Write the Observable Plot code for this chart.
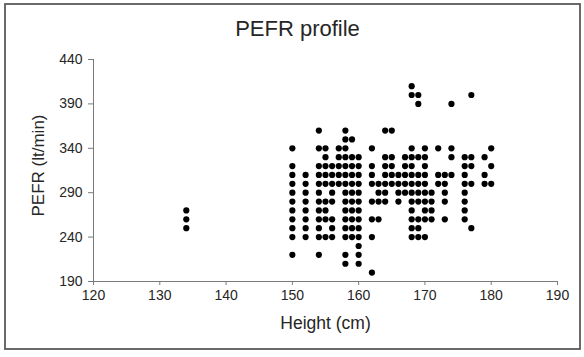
<!DOCTYPE html>
<html>
<head>
<meta charset="utf-8">
<script src="https://cdn.jsdelivr.net/npm/d3@7"></script>
<script src="https://cdn.jsdelivr.net/npm/@observablehq/plot@0.6"></script>
<style>
  html, body { margin: 0; padding: 0; background: #fff; }
  #chart { width: 584px; height: 357px; }
</style>
</head>
<body>
<div id="chart"></div>
<script>
// Height (cm) columns and the PEFR (lt/min) values recorded at each height
const heights = [134, 150, 152, 154, 155, 156, 157, 158, 159, 160, 162, 163, 164, 165, 166, 167, 168, 169, 170, 171, 172, 173, 174, 176, 177, 179, 180];
const pefrByHeight = [
  [250, 260, 270],                                                        // 134
  [220, 240, 250, 260, 270, 280, 290, 300, 310, 320, 340],                // 150
  [240, 250, 260, 270, 280, 290, 300, 310],                               // 152
  [220, 240, 250, 260, 270, 280, 290, 300, 310, 320, 340, 360],           // 154
  [240, 260, 270, 280, 300, 310, 320, 330, 340],                          // 155
  [240, 250, 260, 280, 290, 300, 310, 320],                               // 156
  [300, 310, 320, 330, 340],                                              // 157
  [210, 220, 240, 250, 260, 270, 280, 290, 300, 310, 320, 330, 340, 350, 360], // 158
  [240, 250, 260, 270, 280, 290, 300, 310, 320, 330, 350],                // 159
  [210, 220, 230, 240, 250, 260, 270, 280, 290, 300, 310, 320, 330],      // 160
  [200, 240, 260, 280, 300, 310, 320, 340],                               // 162
  [260, 280, 290, 300],                                                   // 163
  [280, 290, 300, 310, 320, 330, 360],                                    // 164
  [300, 310, 320, 330, 360],                                              // 165
  [280, 290, 300, 310],                                                   // 166
  [290, 300, 310, 320, 330],                                              // 167
  [240, 250, 260, 270, 280, 290, 300, 310, 320, 330, 340, 400, 410],      // 168
  [240, 250, 260, 280, 290, 300, 310, 330, 390, 400],                     // 169
  [240, 260, 270, 280, 290, 300, 310, 320, 330, 340],                     // 170
  [260, 270, 280, 290],                                                   // 171
  [300, 310, 340],                                                        // 172
  [260, 280, 290, 300, 310],                                              // 173
  [310, 330, 340, 390],                                                   // 174
  [260, 270, 280, 290, 300, 310, 320, 330],                               // 176
  [250, 300, 320, 330, 400],                                              // 177
  [300, 310, 330],                                                        // 179
  [300, 320, 340]                                                         // 180
];
const xTicks = [120, 130, 140, 150, 160, 170, 180, 190];
const yTicks = [190, 240, 290, 340, 390, 440];
const titleText = "PEFR profile";
const xLabel = "Height (cm)";
const yLabel = "PEFR (lt/min)";

const data = heights.flatMap((h, i) => pefrByHeight[i].map(p => ({height: h, pefr: p})));

const axisColor = "#7a7a7a";
const textColor = "#262626";

const chart = Plot.plot({
  width: 584,
  height: 357,
  marginLeft: 93,
  marginRight: 27,
  marginTop: 59,
  marginBottom: 76,
  style: {fontFamily: "'Liberation Sans', Arial, sans-serif", color: textColor, background: "#fff", overflow: "visible"},
  x: {domain: [120, 190]},
  y: {domain: [190, 440]},
  marks: [
    Plot.axisX({ticks: xTicks, tickSize: 4, tickPadding: 5, fontSize: 14, label: null, stroke: axisColor, fill: textColor}),
    Plot.axisY({ticks: yTicks, tickSize: 5, tickPadding: 6, fontSize: 14, label: null, stroke: axisColor, fill: textColor}),
    Plot.ruleX([120], {stroke: axisColor}),
    Plot.ruleY([190], {stroke: axisColor}),
    Plot.dot(data, {x: "height", y: "pefr", r: 3.1, fill: "#000", stroke: null}),
    Plot.text([xLabel], {frameAnchor: "bottom", lineAnchor: "middle", dy: 42, fontSize: 17.5, fill: textColor}),
    Plot.text([yLabel], {frameAnchor: "left", textAnchor: "middle", lineAnchor: "middle", dx: -55, dy: -5, rotate: -90, fontSize: 17, fill: textColor}),
    Plot.text([titleText], {frameAnchor: "top", lineAnchor: "middle", dy: -31, dx: -28, fontSize: 22, fill: textColor})
  ]
});

d3.select(chart).append("rect")
  .attr("x", 5).attr("y", 4).attr("width", 575).attr("height", 345)
  .attr("fill", "none").attr("stroke", "#5a5a5a").attr("stroke-width", 1.8);

document.getElementById("chart").appendChild(chart);
</script>
</body>
</html>
